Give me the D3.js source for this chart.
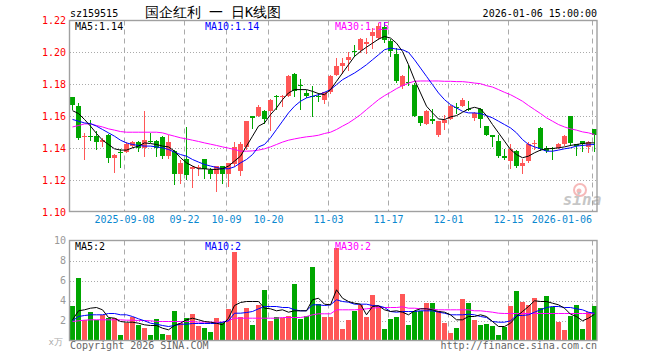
<!DOCTYPE html>
<html><head><meta charset="utf-8">
<script src="https://cdn.jsdelivr.net/npm/d3@7"></script>
<style>
html,body{margin:0;padding:0;background:#fff;}
svg text{font-family:"DejaVu Sans Mono",monospace;}
</style></head>
<body><svg id="c" width="660" height="360"></svg>
<script>
const dates = ["2025-08-26","2025-08-27","2025-08-28","2025-08-29","2025-09-01","2025-09-02","2025-09-03","2025-09-04","2025-09-05",
"2025-09-08","2025-09-09","2025-09-10","2025-09-11","2025-09-12","2025-09-15","2025-09-16","2025-09-17","2025-09-18","2025-09-19",
"2025-09-22","2025-09-23","2025-09-24","2025-09-25","2025-09-26","2025-09-29","2025-09-30","2025-10-09","2025-10-10",
"2025-10-13","2025-10-14","2025-10-15","2025-10-16","2025-10-17","2025-10-20","2025-10-21","2025-10-22","2025-10-23","2025-10-24",
"2025-10-27","2025-10-28","2025-10-29","2025-10-30","2025-10-31","2025-11-03","2025-11-04","2025-11-05","2025-11-06","2025-11-07",
"2025-11-10","2025-11-11","2025-11-12","2025-11-13","2025-11-14","2025-11-17","2025-11-18","2025-11-19","2025-11-20","2025-11-21",
"2025-11-24","2025-11-25","2025-11-26","2025-11-27","2025-11-28","2025-12-01","2025-12-02","2025-12-03","2025-12-04","2025-12-05",
"2025-12-08","2025-12-09","2025-12-10","2025-12-11","2025-12-12","2025-12-15","2025-12-16","2025-12-17","2025-12-18","2025-12-19",
"2025-12-22","2025-12-23","2025-12-24","2025-12-25","2025-12-26","2025-12-29","2025-12-30","2025-12-31","2026-01-05","2026-01-06"];

const open = [1.1719,1.1667,1.1469,1.1477,1.1479,1.1438,1.1485,1.1340,1.1375,1.1377,1.1413,1.1438,1.1402,1.1446,1.1448,1.1469,1.1354,1.1385,1.1240,1.1329,
1.1271,1.1279,1.1329,1.1263,1.1238,1.1288,1.1238,1.1298,1.1256,1.1406,1.1600,1.1604,1.1631,1.1631,1.1729,1.1720,1.1729,1.1867,1.1798,1.1746,
1.1729,1.1729,1.1700,1.1750,1.1860,1.1913,1.1954,1.2008,1.2013,1.2054,1.2100,1.2090,1.2161,1.2073,1.1990,1.1788,1.1815,1.1798,1.1604,1.1552,
1.1585,1.1485,1.1558,1.1583,1.1658,1.1667,1.1646,1.1590,1.1648,1.1537,1.1485,1.1448,1.1350,1.1319,1.1381,1.1288,1.1319,1.1425,1.1527,1.1402,
1.1404,1.1402,1.1423,1.1604,1.1423,1.1444,1.1406,1.1517];
const high = [1.1720,1.1683,1.1492,1.1579,1.1506,1.1465,1.1490,1.1365,1.1392,1.1437,1.1448,1.1444,1.1631,1.1496,1.1454,1.1475,1.1485,1.1390,1.1325,1.1533,
1.1288,1.1292,1.1333,1.1277,1.1290,1.1290,1.1310,1.1438,1.1438,1.1570,1.1602,1.1673,1.1640,1.1710,1.1735,1.1733,1.1858,1.1869,1.1835,1.1767,
1.1788,1.1746,1.1752,1.1858,1.1965,1.1965,1.2000,1.2048,1.2088,1.2090,1.2152,1.2183,1.2190,1.2083,1.2025,1.1856,1.1923,1.1808,1.1604,1.1642,
1.1646,1.1573,1.1610,1.1673,1.1683,1.1717,1.1698,1.1625,1.1650,1.1540,1.1485,1.1480,1.1396,1.1423,1.1390,1.1333,1.1438,1.1454,1.1533,1.1413,
1.1408,1.1433,1.1480,1.1604,1.1427,1.1448,1.1444,1.1520];
const low = [1.1646,1.1458,1.1333,1.1454,1.1396,1.1412,1.1313,1.1250,1.1283,1.1373,1.1408,1.1381,1.1350,1.1438,1.1350,1.1340,1.1340,1.1177,1.1183,1.1204,
1.1156,1.1230,1.1215,1.1215,1.1131,1.1183,1.1163,1.1288,1.1230,1.1396,1.1527,1.1600,1.1560,1.1513,1.1646,1.1663,1.1725,1.1725,1.1646,1.1720,
1.1600,1.1694,1.1683,1.1746,1.1856,1.1871,1.1892,1.1975,1.2000,1.1996,1.2027,1.2085,1.2065,1.1975,1.1815,1.1777,1.1798,1.1600,1.1548,1.1550,
1.1558,1.1479,1.1517,1.1580,1.1620,1.1665,1.1638,1.1575,1.1533,1.1480,1.1413,1.1344,1.1329,1.1277,1.1283,1.1246,1.1315,1.1392,1.1390,1.1375,
1.1330,1.1400,1.1421,1.1419,1.1360,1.1381,1.1375,1.1385];
const close = [1.1669,1.1465,1.1479,1.1473,1.1438,1.1454,1.1340,1.1360,1.1367,1.1427,1.1440,1.1402,1.1454,1.1444,1.1402,1.1354,1.1438,1.1240,1.1308,1.1231,
1.1281,1.1283,1.1271,1.1238,1.1288,1.1238,1.1304,1.1408,1.1429,1.1569,1.1590,1.1656,1.1583,1.1704,1.1719,1.1729,1.1854,1.1756,1.1788,1.1729,
1.1720,1.1720,1.1750,1.1854,1.1913,1.1933,1.1969,1.2004,1.2085,1.2065,1.2131,1.2163,1.2075,1.2010,1.1820,1.1850,1.1806,1.1604,1.1558,1.1631,
1.1569,1.1569,1.1579,1.1667,1.1654,1.1704,1.1640,1.1621,1.1585,1.1485,1.1469,1.1354,1.1340,1.1396,1.1288,1.1308,1.1429,1.1431,1.1392,1.1381,
1.1396,1.1429,1.1479,1.1433,1.1413,1.1423,1.1438,1.1480];
const volume = [3.47,6.3,2.07,2.9,2.07,2.57,2.3,2.23,0.57,1.73,2.4,1.57,1.3,0.57,2.13,0.67,0.5,2.97,1.73,2.3,
2.67,1.5,1.27,0.87,2.3,1.83,3.17,8.9,2.4,3.3,1.57,3.57,5.07,2.0,2.4,2.3,2.47,5.67,2.17,2.47,
7.4,3.67,2.4,2.4,9.3,1.17,2.07,2.97,3.6,2.4,4.57,3.47,1.17,2.17,2.4,4.67,1.57,2.97,2.97,3.73,
3.73,2.97,1.8,0.8,1.3,4.17,3.73,2.07,1.57,1.67,1.5,0.57,1.33,3.47,4.97,3.87,3.57,4.3,3.3,4.47,
3.4,1.9,1.07,2.47,3.57,1.17,2.9,3.47];

const ma5 = [1.1635,1.1617,1.158,1.1538,1.1492,1.145,1.1423,1.1396,1.1388,1.1388,1.1402,1.1413,1.1433,1.1429,1.1423,1.1413,1.1408,1.1381,1.134,1.1308,
1.1288,1.1271,1.1271,1.1267,1.1267,1.1271,1.1288,1.1319,1.135,1.1413,1.1475,1.1538,1.1558,1.161,1.1652,1.1704,1.1746,1.1767,1.1767,1.1767,
1.1756,1.1742,1.1735,1.1767,1.1819,1.1871,1.1923,1.1975,1.2006,1.2033,1.2058,1.2083,1.21,1.209,1.2058,1.2006,1.1923,1.1829,1.1746,1.1663,
1.1621,1.1583,1.1579,1.1596,1.1604,1.1625,1.1646,1.1656,1.1646,1.1604,1.1548,1.1496,1.1444,1.1392,1.136,1.134,1.135,1.1371,1.1388,1.1396,
1.1398,1.1402,1.1408,1.1417,1.1423,1.1429,1.1433,1.1433];
const ma10 = [1.158,1.1569,1.1558,1.1554,1.1538,1.1517,1.1496,1.1475,1.145,1.1433,1.1423,1.1417,1.1413,1.1413,1.1408,1.1402,1.1392,1.1375,1.136,1.135,
1.1329,1.1313,1.1298,1.1288,1.1279,1.1271,1.1271,1.1283,1.1308,1.1329,1.136,1.1408,1.1423,1.1465,1.1517,1.1569,1.1621,1.1663,1.1694,1.1715,
1.1725,1.1735,1.175,1.1767,1.1798,1.1829,1.185,1.1871,1.1896,1.1923,1.1954,1.1985,1.2017,1.2027,1.2021,1.2017,1.2,1.1954,1.1902,1.185,
1.1798,1.1746,1.1704,1.1673,1.1652,1.1631,1.1621,1.1621,1.1617,1.1604,1.159,1.1569,1.1548,1.1527,1.1496,1.1454,1.1423,1.1408,1.1396,1.1381,
1.1381,1.1388,1.1396,1.1402,1.1413,1.1417,1.1421,1.1423];
const ma30 = [1.1533,1.1542,1.1552,1.1552,1.1542,1.1533,1.1521,1.1513,1.1504,1.15,1.15,1.15,1.15,1.15,1.15,1.1496,1.1485,1.1475,1.1465,1.1458,
1.145,1.1442,1.1433,1.1425,1.1417,1.1408,1.14,1.1392,1.1381,1.1381,1.1383,1.1388,1.1396,1.1408,1.1423,1.1438,1.145,1.1458,1.1465,1.1471,
1.1475,1.1481,1.1492,1.15,1.1517,1.1538,1.1558,1.1583,1.161,1.1642,1.1673,1.1704,1.1729,1.175,1.1773,1.1792,1.1808,1.1819,1.1821,1.1821,
1.1821,1.1821,1.1819,1.1819,1.1817,1.1817,1.1813,1.1808,1.1804,1.1792,1.1783,1.1767,1.175,1.1735,1.1715,1.1694,1.1667,1.1642,1.1617,1.159,
1.1569,1.1548,1.1533,1.1521,1.1513,1.1502,1.1496,1.1485];

const vma5 = [2.07,2.97,3.07,3.23,3.3,3.07,2.3,2.23,1.9,1.83,1.83,1.73,1.57,1.5,1.5,1.23,1.07,1.5,1.73,2.07,
2.23,2.07,1.9,1.83,1.73,1.57,2.23,3.5,3.8,3.9,3.9,3.9,3.23,3.17,2.97,3.07,2.83,2.97,2.97,2.97,
4.07,4.23,3.63,3.57,5.07,4.23,3.9,3.73,3.63,2.57,3.4,3.47,3.07,2.9,2.97,2.83,2.57,2.97,3.17,3.17,
3.07,2.9,2.83,2.57,2.07,2.07,2.4,2.4,2.57,2.4,1.9,1.4,1.4,1.73,2.4,2.9,3.4,3.97,3.9,3.9,
3.73,3.57,3.23,2.63,2.4,1.97,2.23,2.63];
const vma10 = [1.97,2.4,2.5,2.57,2.57,2.57,2.7,2.7,2.57,2.57,2.4,2.17,1.97,1.73,1.63,1.5,1.4,1.5,1.63,1.63,
1.7,1.7,1.7,1.7,1.7,1.83,1.97,2.73,2.73,2.8,2.9,3.17,3.4,3.4,3.4,3.3,3.3,3.07,2.97,2.97,
3.57,3.57,3.5,3.57,4.07,3.9,3.83,3.63,3.63,3.63,3.5,3.47,3.3,2.9,2.83,2.9,2.9,2.9,2.97,2.97,
2.97,2.83,2.73,2.57,2.57,2.57,2.63,2.57,2.4,2.3,1.9,1.83,1.83,1.97,2.5,2.5,2.57,2.83,3.07,3.3,
3.4,3.4,3.3,3.3,3.17,3.07,2.83,2.73];
const vma30 = [1.9,1.97,2.03,2.07,2.07,2.07,2.07,2.07,2.07,2.03,2.03,2.0,2.0,1.97,1.9,1.9,1.9,1.9,1.9,1.9,
1.9,1.83,1.83,1.83,1.83,1.83,1.97,2.23,2.23,2.23,2.23,2.23,2.23,2.23,2.23,2.3,2.3,2.3,2.3,2.4,
2.57,2.67,2.67,2.67,3.07,3.07,3.07,3.07,3.1,3.17,3.23,3.3,3.3,3.3,3.3,3.37,3.23,3.23,3.17,3.17,
3.13,3.07,3.07,3.07,3.07,3.07,3.07,2.97,2.97,2.9,2.83,2.73,2.7,2.7,2.7,2.7,2.7,2.7,2.7,2.7,
2.7,2.7,2.7,2.7,2.7,2.7,2.7,2.67];

const xTickDates = ["2025-09-08","2025-09-22","2025-10-09","2025-10-20","2025-11-03","2025-11-17","2025-12-01","2025-12-15","2026-01-06"];
const xTickLabels = ["2025-09-08","09-22","10-09","10-20","11-03","11-17","12-01","12-15","2026-01-06"];
const priceTicks = [1.10,1.12,1.14,1.16,1.18,1.20,1.22];
const volTicks = [2,4,6,8,10];

const UP = "#ff5757", DOWN = "#00a600";
const svg = d3.select("#c");
const L = 70, R = 597;
const x = d3.scaleBand().domain(dates).range([L, L + dates.length * 6]).padding(0);
const y = d3.scaleLinear().domain([1.10, 1.22]).range([212, 20.5]);
const vy = d3.scaleLinear().domain([0, 10]).range([340.5, 240.5]);
const crisp = v => Math.round(v) + 0.5;

function panel(top, bottom, hTicks, yScale) {
  const g = svg.append("g");
  g.selectAll("line.h").data(hTicks).enter().append("line")
    .attr("x1", L).attr("x2", R)
    .attr("y1", d => crisp(yScale(d))).attr("y2", d => crisp(yScale(d)))
    .attr("stroke", "#aaa").attr("stroke-dasharray", "1,2");
  g.selectAll("line.v").data(xTickDates).enter().append("line")
    .attr("x1", d => x(d) + 0.5).attr("x2", d => x(d) + 0.5)
    .attr("y1", top).attr("y2", bottom)
    .attr("stroke", "#aaa").attr("stroke-dasharray", "5,4");
  return g;
}

// ---- price panel
panel(20.5, 211.5, [1.12,1.14,1.16,1.18,1.20], y);

const cg = svg.append("g");
dates.forEach((d, i) => {
  const up = close[i] >= open[i];
  const col = up ? UP : DOWN;
  const cx = x(d) + 2.5;
  cg.append("line").attr("x1", cx).attr("x2", cx)
    .attr("y1", Math.round(y(high[i]))).attr("y2", Math.round(y(low[i])) + 1)
    .attr("stroke", col).attr("stroke-width", 1);
  const yt = Math.round(y(Math.max(open[i], close[i])));
  const yb = Math.round(y(Math.min(open[i], close[i])));
  cg.append("rect").attr("x", x(d)).attr("width", 5)
    .attr("y", yt).attr("height", Math.max(1, yb - yt))
    .attr("fill", col).attr("shape-rendering", "crispEdges");
});

const priceLine = arr => d3.line().x((v, i) => x(dates[i]) + 2.5).y(v => y(v))(arr);
[[ma30, "#ff00ff"], [ma10, "#0000ff"], [ma5, "#000"]].forEach(([a, c]) =>
  svg.append("path").attr("d", priceLine(a)).attr("fill", "none").attr("stroke", c).attr("stroke-width", 1));

// ---- volume panel
panel(240.5, 340.5, [2,4,6,8], vy);
const vg = svg.append("g");
vg.selectAll("rect").data(dates).enter().append("rect")
  .attr("x", d => x(d)).attr("width", 5)
  .attr("y", (d, i) => Math.round(vy(volume[i])))
  .attr("height", (d, i) => 341 - Math.round(vy(volume[i])))
  .attr("fill", (d, i) => close[i] >= open[i] ? UP : DOWN)
  .attr("shape-rendering", "crispEdges");
const volLine = arr => d3.line().x((v, i) => x(dates[i]) + 2.5).y(v => vy(v))(arr);
[[vma30, "#ff00ff"], [vma10, "#0000ff"], [vma5, "#000"]].forEach(([a, c]) =>
  svg.append("path").attr("d", volLine(a)).attr("fill", "none").attr("stroke", c).attr("stroke-width", 1));

// frames
svg.append("rect").attr("x", 69.5).attr("y", 20.5).attr("width", R - 69.5).attr("height", 191)
  .attr("fill", "none").attr("stroke", "#a0a0a0").attr("stroke-width", 1.4);
svg.append("rect").attr("x", 69.5).attr("y", 240.5).attr("width", R - 69.5).attr("height", 100)
  .attr("fill", "none").attr("stroke", "#a0a0a0").attr("stroke-width", 1.4);

// axes
const yAxis = svg.append("g").attr("transform", "translate(66,0)")
  .call(d3.axisLeft(y).tickValues(priceTicks).tickFormat(d3.format(".2f")).tickSize(0).tickPadding(0));
yAxis.select(".domain").remove();
yAxis.selectAll("text").attr("fill", "#f00").attr("font-family", "DejaVu Sans Mono").attr("font-size", 10);

const vAxis = svg.append("g").attr("transform", "translate(66,0)")
  .call(d3.axisLeft(vy).tickValues(volTicks).tickFormat(d3.format("d")).tickSize(0).tickPadding(0));
vAxis.select(".domain").remove();
vAxis.selectAll("text").attr("fill", "#999").attr("font-family", "DejaVu Sans Mono").attr("font-size", 10);

const lastTick = xTickDates[xTickDates.length - 1];
const xAxis = svg.append("g").attr("transform", "translate(0,216)")
  .call(d3.axisBottom(x).tickValues(xTickDates)
    .tickFormat(d => xTickLabels[xTickDates.indexOf(d)]).tickSize(0).tickPadding(0));
xAxis.select(".domain").remove();
xAxis.selectAll(".tick").attr("transform", d => d === lastTick ? "translate(592,0)" : `translate(${x(d) + 0.5},0)`);
xAxis.selectAll("text").attr("fill", "#0a88d0").attr("font-family", "DejaVu Sans Mono").attr("font-size", 10)
  .attr("text-anchor", d => d === lastTick ? "end" : "middle");

// texts
const T = (s, tx, ty, o = {}) => svg.append("text").text(s).attr("x", tx).attr("y", ty)
  .attr("font-size", o.size || 10).attr("fill", o.fill || "#000")
  .attr("text-anchor", o.anchor || "start")
  .attr("font-family", o.font || "DejaVu Sans Mono");
T("sz159515", 70, 17);
T("国企红利 一 日K线图", 213, 16.5, {size: 13.5, anchor: "middle", font: "Noto Sans CJK SC"});
T("2026-01-06 15:00:00", 597, 16.5, {anchor: "end"});
T("MA5:1.14", 75, 30);
T("MA10:1.14", 205, 30, {fill: "#0000ff"});
T("MA30:1.15", 335, 30, {fill: "#ff00ff"});
T("MA5:2", 75, 250);
T("MA10:2", 205, 250, {fill: "#0000ff"});
T("MA30:2", 335, 250, {fill: "#ff00ff"});
T("x万", 63, 345, {size: 9, fill: "#aaa", anchor: "end", font: "Noto Sans CJK SC"});
T("Copyright 2026 SINA.COM", 70, 348.5, {fill: "#666"});
T("http://finance.sina.com.cn", 597, 348.5, {fill: "#666", anchor: "end"});

// sina watermark
const wm = svg.append("g").attr("opacity", 0.55);
wm.append("circle").attr("cx", 580).attr("cy", 190).attr("r", 6).attr("fill", "none").attr("stroke", "#f08080").attr("stroke-width", 2);
wm.append("circle").attr("cx", 579).attr("cy", 191).attr("r", 2.5).attr("fill", "#f08080");
wm.append("text").text("sina").attr("x", 582).attr("y", 205).attr("text-anchor", "middle")
  .attr("font-family", "DejaVu Sans").attr("font-weight", "bold").attr("font-style", "italic")
  .attr("font-size", 16).attr("fill", "#999");
</script></body></html>
